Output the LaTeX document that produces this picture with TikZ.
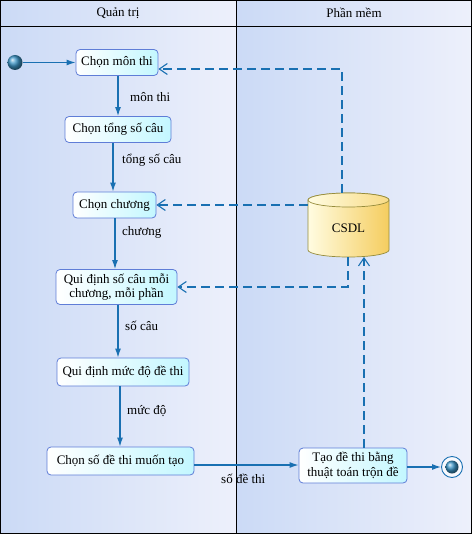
\documentclass[tikz,border=0pt]{standalone}
\usepackage{fontspec}
\setmainfont{Liberation Serif}
\usetikzlibrary{arrows.meta,shadings}
\definecolor{lineblue}{RGB}{25,112,178}
\definecolor{boxborder}{RGB}{95,125,215}
\definecolor{boxfill}{RGB}{195,247,255}
\definecolor{laneA}{RGB}{203,218,246}
\definecolor{laneB}{RGB}{237,240,251}
\definecolor{cylA}{RGB}{255,252,225}
\definecolor{cylB}{RGB}{245,205,95}
\definecolor{cylborder}{RGB}{150,140,60}
\definecolor{ballc}{RGB}{60,150,200}
\begin{document}
\begin{tikzpicture}[x=1pt,y=-1pt, font=\fontsize{13}{14.5}\selectfont,
 act/.style={draw=boxborder, line width=0.8pt, rounded corners=4pt, left color=white, right color=boxfill, align=center, inner sep=1pt},
 flow/.style={draw=lineblue, line width=1.2pt, -{Latex[length=9pt,width=6pt]}},
 dep/.style={draw=lineblue, line width=1.1pt, dash pattern=on 9pt off 5pt, -{Straight Barb[length=8pt,width=11pt]}},
 lbl/.style={inner sep=1pt}]
\useasboundingbox (0,0) rectangle (472,534);
% lanes
\shade[left color=laneA, right color=laneB] (0,0) rectangle (236,534);
\shade[left color=laneA, right color=laneB] (236,0) rectangle (472,534);
\draw[line width=1pt] (0.5,0.5) rectangle (471.5,533.5);
\draw[line width=1pt] (0,27) -- (472,27);
\draw[line width=1pt] (236,0) -- (236,534);
\node (h1) at (118,13) {Quản trị};
\node (h2) at (354,13) {Phần mềm};

% activities
\node[act, minimum width=82pt, minimum height=26pt] (n1) at (117,62.5) {Chọn môn thi};
\node[act, minimum width=106pt, minimum height=26pt] (n2) at (118,129.5) {Chọn tổng số câu};
\node[act, minimum width=83pt, minimum height=26pt] (n3) at (114.5,205) {Chọn chương};
\node[act, minimum width=121pt, minimum height=35pt] (n4) at (116.5,287) {Qui định số câu mỗi\\chương, mỗi phần};
\node[act, minimum width=132pt, minimum height=28pt] (n5) at (123,372) {Qui định mức độ đề thi};
\node[act, minimum width=147pt, minimum height=28pt] (n6) at (120.5,461) {Chọn số đề thi muốn tạo};
\node[act, minimum width=108pt, minimum height=35pt] (n7) at (353,465.5) {Tạo đề thi bằng\\thuật toán trộn đề};

% start / end
\node[circle, minimum size=15pt, inner sep=0pt, ball color=ballc] (start) at (15,62.5) {};
\node[circle, draw=lineblue, line width=0.9pt, minimum size=21pt, inner sep=0pt, fill=white!60!laneB] (end) at (452,467) {};
\node[circle, minimum size=13pt, inner sep=0pt, ball color=ballc] (endin) at (452,467) {};

% CSDL cylinder
\node[minimum width=81pt, minimum height=64pt, inner sep=0pt] (csdl) at (348.5,225) {};
\shade[left color=cylA, right color=cylB, draw=cylborder, line width=0.7pt]
  (308,200) -- (308,250) arc[start angle=180,end angle=0,x radius=40.5,y radius=7]
  -- (389,200) arc[start angle=0,end angle=-180,x radius=40.5,y radius=7] -- cycle;
\shade[left color=cylA, right color=cylB!70!cylA, draw=cylborder, line width=0.7pt]
  (348.5,200) ellipse [x radius=40.5, y radius=7];
\node (csdlt) at (348.5,228) {CSDL};

% control flow
\draw[flow] (start.east) -- (n1.west);
\draw[flow] (n1.south -| 118,0) -- (n2.north -| 118,0);
\node[lbl, anchor=west] (l1) at (129,97) {môn thi};
\draw[flow] (n2.south -| 113,0) -- (n3.north -| 113,0);
\node[lbl, anchor=west] (l2) at (121,160) {tổng số câu};
\draw[flow] (n3.south -| 115,0) -- (n4.north -| 115,0);
\node[lbl, anchor=west] (l3) at (121,232) {chương};
\draw[flow] (n4.south -| 118,0) -- (n5.north -| 118,0);
\node[lbl, anchor=west] (l4) at (124,326) {số câu};
\draw[flow] (n5.south -| 120,0) -- (n6.north -| 120,0);
\node[lbl, anchor=west] (l5) at (126,411) {mức độ};
\draw[flow] (n6.east |- 0,465) -- (n7.west |- 0,465);
\node[lbl, anchor=west] (l6) at (220,479) {số đề thi};
\draw[flow] (n7.east |- 0,467) -- (end.west);

% dependencies
\draw[dep] (csdl.north -| 342,0) |- (n1.east |- 0,69);
\draw[dep] (csdl.west |- n3.east) -- (n3.east);
\draw[dep] (csdl.south -| 348,0) |- (n4.east);
\draw[dep] (n7.north -| 364,0) -- (364,257);
\end{tikzpicture}
\end{document}
